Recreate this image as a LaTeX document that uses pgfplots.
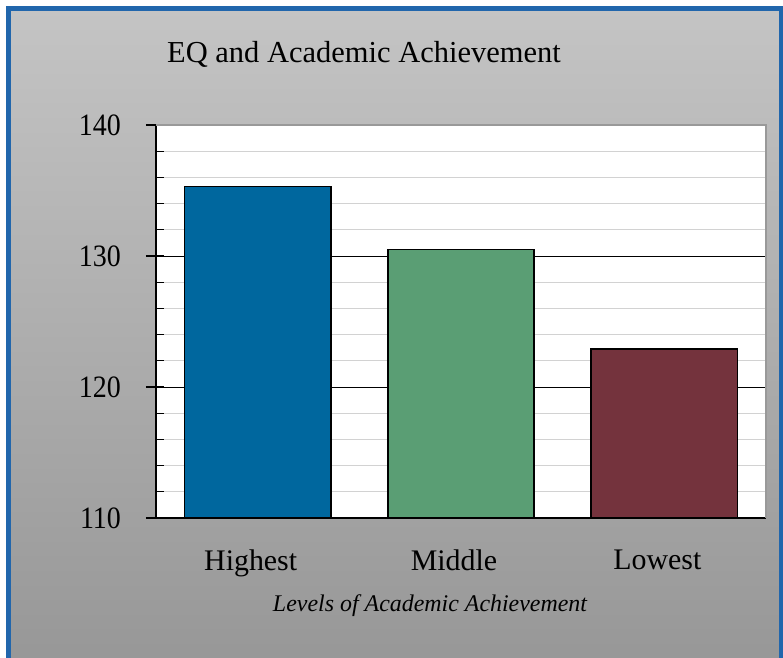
\documentclass[border=0pt]{standalone}
\usepackage{pgfplots}
\pgfplotsset{compat=1.18}
\usepackage{fontspec}
\setmainfont{Liberation Serif}

\definecolor{barblue}{RGB}{0,103,158}
\definecolor{bargreen}{RGB}{90,158,116}
\definecolor{barred}{RGB}{116,51,61}
\definecolor{bgtop}{RGB}{196,196,196}
\definecolor{bgbot}{RGB}{150,150,150}
\definecolor{frameblue}{RGB}{33,102,172}

\begin{document}
\begin{tikzpicture}
% page: 783 x 658 px, 1 px = 0.5 bp
\useasboundingbox (0,0) rectangle (391.5bp,-329bp);
\fill[white] (0,0) rectangle (391.5bp,-329bp);
\begin{scope}
  \clip (0,0) rectangle (391.5bp,-329bp);
  \shade[top color=bgtop, bottom color=bgbot] (4bp,-4bp) rectangle (391.5bp,-340bp);
  \draw[frameblue, line width=2.5bp] (4bp,-4.3bp) rectangle (390.5bp,-340bp);
\end{scope}

\node[font=\fontsize{15.3}{18}\selectfont] at (182bp,-27bp) {EQ and Academic Achievement};
\node[font=\fontsize{12}{14}\selectfont\itshape] at (215bp,-303bp) {Levels of Academic Achievement};

\begin{axis}[
    at={(78bp,-259bp)}, anchor=south west,
    scale only axis, width=305bp, height=196.5bp,
    xmin=-0.5, xmax=2.5, ymin=110, ymax=140,
    axis background/.style={fill=white},
    axis x line*=bottom, axis y line*=left,
    axis line style={black, line width=0.6bp},
    xtick={0,1,2},
    xticklabels={Highest, Middle, Lowest},
    x tick style={draw=none},
    xticklabel style={yshift=-8.5bp, xshift=-3.5bp, font=\fontsize{15}{18}\selectfont},
    extra x ticks={-0.5,0.5,1.5,2.5},
    extra x tick labels={},
    extra x tick style={grid=none, tick align=outside, major tick length=4.5bp,
      tick style={draw=black, line width=0.6bp}},
    ytick={110,120,130,140},
    minor y tick num=4,
    tick align=inside,
    major tick length=4bp, minor tick length=4bp,
    y tick style={black, line width=0.6bp},
    extra y ticks={110,120,130,140},
    extra y tick labels={},
    extra y tick style={grid=none, tick align=outside, major tick length=5bp},
    yticklabel style={xshift=-14bp, font=\fontsize{15.6}{18}\selectfont\addfontfeature{FakeStretch=0.9}},
    ymajorgrids, yminorgrids,
    major grid style={black, line width=0.5bp},
    minor grid style={gray!35, line width=0.6bp},
    /pgf/number format/assume math mode=true,
    ybar, bar width=0.72, bar shift=0pt,
    clip=false,
]
\addplot[fill=barblue, draw=black, line width=0.9bp] coordinates {(0,135.3)};
\addplot[fill=bargreen, draw=black, line width=0.9bp] coordinates {(1,130.5)};
\addplot[fill=barred, draw=black, line width=0.9bp] coordinates {(2,122.9)};
\draw[gray!80, line width=0.6bp] (rel axis cs:0,1) -- (rel axis cs:1,1) -- (rel axis cs:1,0);
\end{axis}
\end{tikzpicture}
\end{document}
